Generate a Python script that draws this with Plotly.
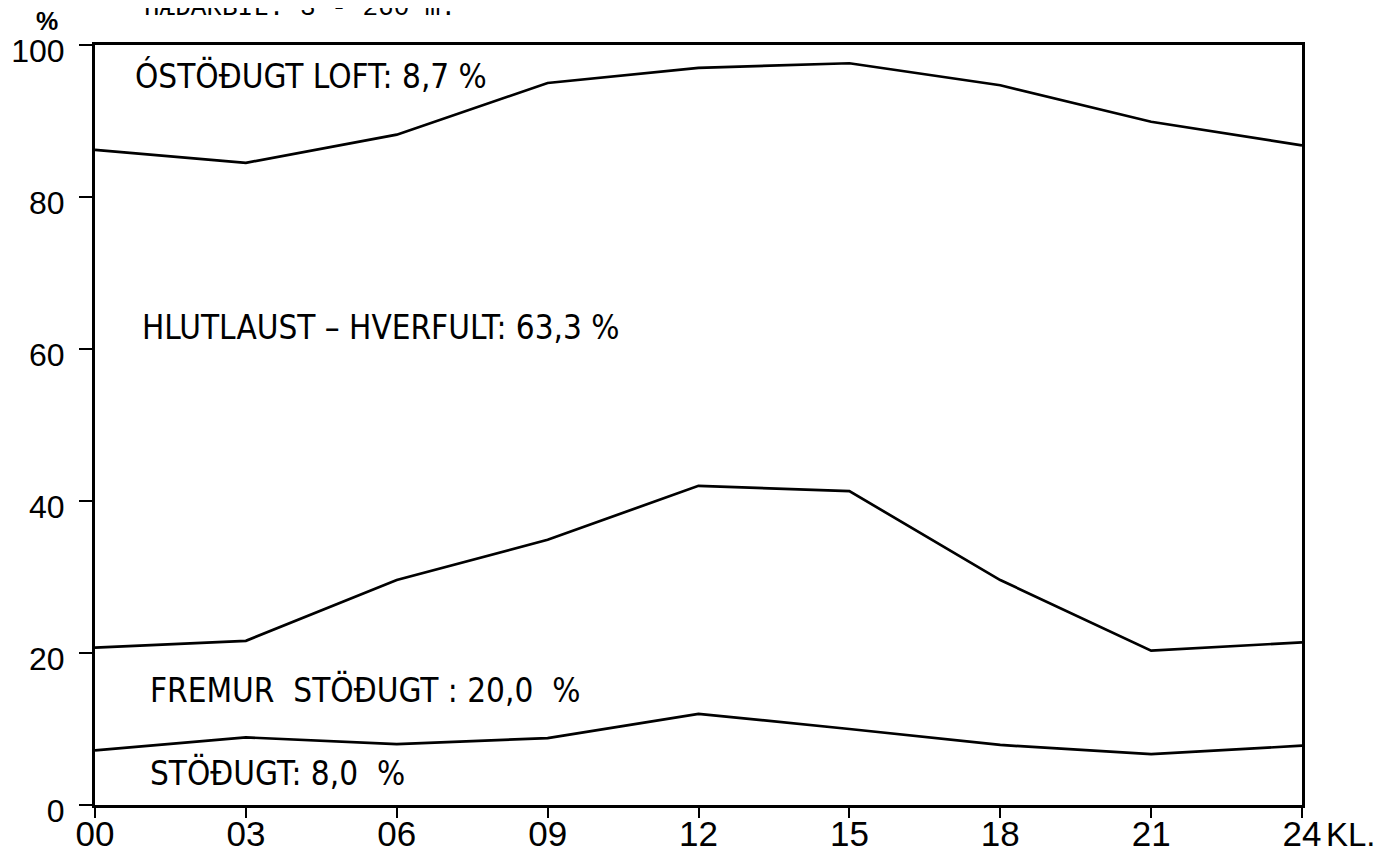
import plotly.graph_objects as go

hours = [0, 3, 6, 9, 12, 15, 18, 21, 24]
x_tick_labels = ["00", "03", "06", "09", "12", "15", "18", "21", "24"]
y_ticks = [0, 20, 40, 60, 80, 100]

# cumulative boundaries (%)
stable_top = [7.2, 8.9, 8.0, 8.8, 12.0, 10.0, 7.9, 6.7, 7.8]
fairly_stable_top = [20.7, 21.6, 29.6, 34.9, 42.0, 41.3, 29.6, 20.3, 21.4]
neutral_top = [86.2, 84.5, 88.2, 95.0, 97.0, 97.6, 94.7, 89.9, 86.8]

region_labels = [
    ("ÓSTÖÐUGT LOFT: 8,7 %", 0.75, 95.9),
    ("HLUTLAUST – HVERFULT: 63,3 %", 0.89, 62.8),
    ("FREMUR  STÖÐUGT : 20,0  %", 1.05, 15.1),
    ("STÖÐUGT: 8,0  %", 1.05, 4.2),
]

LABEL_FONT = "DejaVu Sans Condensed, DejaVu Sans, sans-serif"
TICK_FONT = "Liberation Sans, Arial, sans-serif"

# page has an 8px body margin; compensate so the plot area lands at the reference position
OFF = 8
PAGE_W, PAGE_H = 1384, 861
W, H = PAGE_W - OFF, PAGE_H - OFF
L, R, T, B = 95, 1302, 45, 805  # target plot area in page pixels

def px(xp):
    return (xp - L) / (R - L)

def py(yp):
    return (B - yp) / (B - T)

fig = go.Figure()
for series in (stable_top, fairly_stable_top, neutral_top):
    fig.add_trace(go.Scatter(x=hours, y=series, mode="lines",
                             line=dict(color="black", width=2.7),
                             showlegend=False, hoverinfo="skip"))

for text, xv, yv in region_labels:
    fig.add_annotation(x=xv, y=yv, xref="x", yref="y", text=text,
                       showarrow=False, xanchor="left", yanchor="middle",
                       font=dict(family=LABEL_FONT, size=33, color="black"))

fig.add_annotation(x=px(1324), y=py(834), xref="paper", yref="paper", text="KL.",
                   showarrow=False, xanchor="left", yanchor="middle",
                   font=dict(family=TICK_FONT, size=33, color="black"))
fig.add_annotation(x=px(47), y=py(21), xref="paper", yref="paper", text="<b>%</b>",
                   showarrow=False, xanchor="center", yanchor="middle",
                   font=dict(family=TICK_FONT, size=25, color="black"))
fig.add_annotation(x=px(142), y=py(8), xref="paper", yref="paper",
                   text="HÆÐARBIL: 3 - 260 m.",
                   showarrow=False, xanchor="left", yanchor="middle",
                   font=dict(family="Liberation Mono, DejaVu Sans Mono, monospace", size=26, color="black"))

fig.update_xaxes(range=[0, 24], tickmode="array", tickvals=hours, ticktext=x_tick_labels,
                 showline=True, linecolor="black", linewidth=3, mirror=True,
                 ticks="outside", ticklen=10, tickwidth=2, tickcolor="black",
                 showgrid=False, zeroline=False, automargin=False,
                 ticklabelstandoff=-14,
                 tickfont=dict(family=TICK_FONT, size=35, color="black"))
fig.update_yaxes(range=[0, 100], tickmode="array", tickvals=y_ticks,
                 showline=True, linecolor="black", linewidth=3, mirror=True,
                 ticks="outside", ticklen=13, tickwidth=2, tickcolor="black",
                 showgrid=False, zeroline=False, automargin=False,
                 ticklabelstandoff=8, ticklabelshift=6,
                 tickfont=dict(family=TICK_FONT, size=32, color="black"))

fig.update_layout(width=W, height=H, plot_bgcolor="white", paper_bgcolor="white",
                  margin=dict(l=L - OFF, r=PAGE_W - R, t=T - OFF, b=PAGE_H - B),
                  showlegend=False)

fig.write_html("out.html")
